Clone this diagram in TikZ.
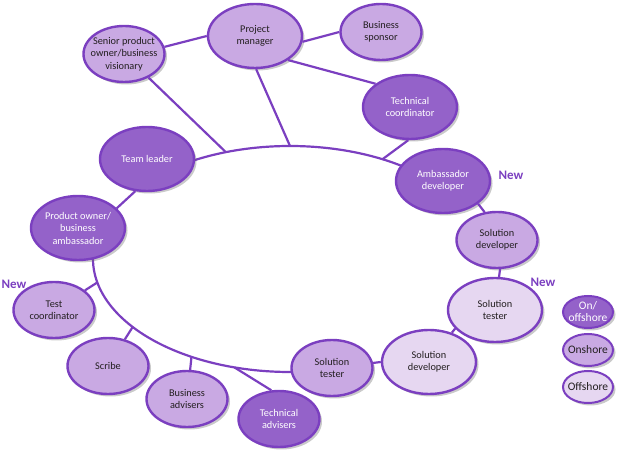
\documentclass[tikz,border=0pt]{standalone}
\usepackage{fontspec}
\setmainfont{Carlito}
\usetikzlibrary{shapes.geometric,shadows}
\definecolor{rimpurple}{HTML}{7B3FC0}
\definecolor{deeprole}{HTML}{9462C9}
\definecolor{midrole}{HTML}{C9A9E3}
\definecolor{palerole}{HTML}{E6D7F1}
\definecolor{inktext}{HTML}{231F20}
\tikzset{
  role/.style={ellipse,draw=rimpurple,line width=2.4pt,inner sep=0pt,
    drop shadow={shadow xshift=2.5pt,shadow yshift=-2.5pt,fill=black!60,opacity=0.35}},
  bigrole/.style={role,minimum width=94,minimum height=64},
  smallrole/.style={role,minimum width=81,minimum height=56},
  keyrole/.style={role,minimum width=50,minimum height=32,line width=2pt},
  onoff/.style={fill=deeprole},
  onshore/.style={fill=midrole},
  offshore/.style={fill=palerole},
  wtxt/.style={align=center,text=white,font=\fontsize{10.3}{12.5}\selectfont},
  btxt/.style={align=center,text=inktext,font=\fontsize{10.3}{12.5}\selectfont},
  keytxt/.style={font=\fontsize{11.5}{12}\selectfont},
  link/.style={draw=rimpurple,line width=2.2pt},
  newtag/.style={text=rimpurple,font=\fontsize{13}{13}\selectfont\bfseries},
}
\begin{document}
\begin{tikzpicture}[x=1pt,y=1pt]
    \useasboundingbox (0,0) rectangle (623,457);

    % the ring
    \coordinate (ring) at (290,198);
    \draw[link] (ring) ++(125:197 and 113)
        arc[start angle=125,end angle=50,x radius=197,y radius=113];
    \draw[link] (ring) ++(170:197 and 113)
        arc[start angle=170,end angle=280,x radius=197,y radius=113];
    \path (ring) ++(109:197 and 113) coordinate (bsenior);
    \path (ring) ++(90:197 and 113) coordinate (bpm);
    \path (ring) ++(62:197 and 113) coordinate (btechco);
    \path (ring) ++(192:197 and 113) coordinate (btestco);
    \path (ring) ++(217:197 and 113) coordinate (bscribe);
    \path (ring) ++(240:197 and 113) coordinate (bbusadv);
    \path (ring) ++(253.6:197 and 113) coordinate (btechadv);

    % roles
    \node[smallrole,onshore,label={[btxt]center:Senior product\\owner/business\\visionary}]
        (senior) at (124,403) {};
    \node[bigrole,onshore,label={[btxt]center:Project\\manager}]
        (pm) at (255,421) {};
    \node[smallrole,onshore,label={[btxt]center:Business\\sponsor}]
        (sponsor) at (381,425) {};
    \node[bigrole,onoff,label={[wtxt]center:Technical\\coordinator}]
        (techco) at (410,350) {};
    \node[bigrole,onoff,label={[wtxt]center:Ambassador\\developer}]
        (ambdev) at (443,276) {};
    \node[bigrole,onoff,label={[wtxt]center:Team leader}]
        (teamlead) at (147,298) {};
    \node[bigrole,onoff,label={[wtxt]center:Product owner/\\business\\ambassador}]
        (po) at (78,229) {};
    \node[smallrole,onshore,label={[btxt]center:Test\\coordinator}]
        (testco) at (54,147) {};
    \node[smallrole,onshore,label={[btxt]center:Scribe}]
        (scribe) at (108,91) {};
    \node[smallrole,onshore,label={[btxt]center:Business\\advisers}]
        (busadv) at (187,58) {};
    \node[smallrole,onoff,label={[wtxt]center:Technical\\advisers}]
        (techadv) at (279,38) {};
    \node[smallrole,onshore,label={[btxt]center:Solution\\tester}]
        (soltestA) at (332,89) {};
    \node[bigrole,offshore,label={[btxt]center:Solution\\developer}]
        (soldevA) at (429,95) {};
    \node[bigrole,offshore,label={[btxt]center:Solution\\tester}]
        (soltestB) at (495,147) {};
    \node[smallrole,onshore,label={[btxt]center:Solution\\developer}]
        (soldevB) at (497,217) {};

    \node[newtag] (newamb) at (511,282) {New};
    \node[newtag] (newtest) at (543,175) {New};
    \node[newtag] (newco) at (14,173) {New};

    % key
    \node[keyrole,onoff,label={[wtxt,keytxt]center:On/\\offshore}] (keyonoff) at (588,145) {};
    \node[keyrole,onshore,label={[btxt,keytxt]center:Onshore}] (keyon) at (588,107) {};
    \node[keyrole,offshore,label={[btxt,keytxt]center:Offshore}] (keyoff) at (588,70) {};

    % links
    \draw[link] (senior.10) -- (pm.180);
    \draw[link] (pm.-7) -- (sponsor.180);
    \draw[link] (pm.-36) -- (techco.146);
    \draw[link] (senior) -- (bsenior);
    \draw[link] (pm.-88) -- (bpm);
    \draw[link] (techco.-93) -- (btechco);
    \draw[link] (teamlead.-110) -- (po.27);
    \draw[link] (ambdev.-33) -- (soldevB.114);
    \draw[link] (soldevB.-84) -- (soltestB.83);
    \draw[link] (soltestB.205) -- (soldevA.52);
    \draw[link] (soldevA.180) -- (soltestA.7);
    \draw[link] (testco) -- (btestco);
    \draw[link] (scribe) -- (bscribe);
    \draw[link] (busadv) -- (bbusadv);
    \draw[link] (techadv.105) -- (btechadv);
\end{tikzpicture}
\end{document}
